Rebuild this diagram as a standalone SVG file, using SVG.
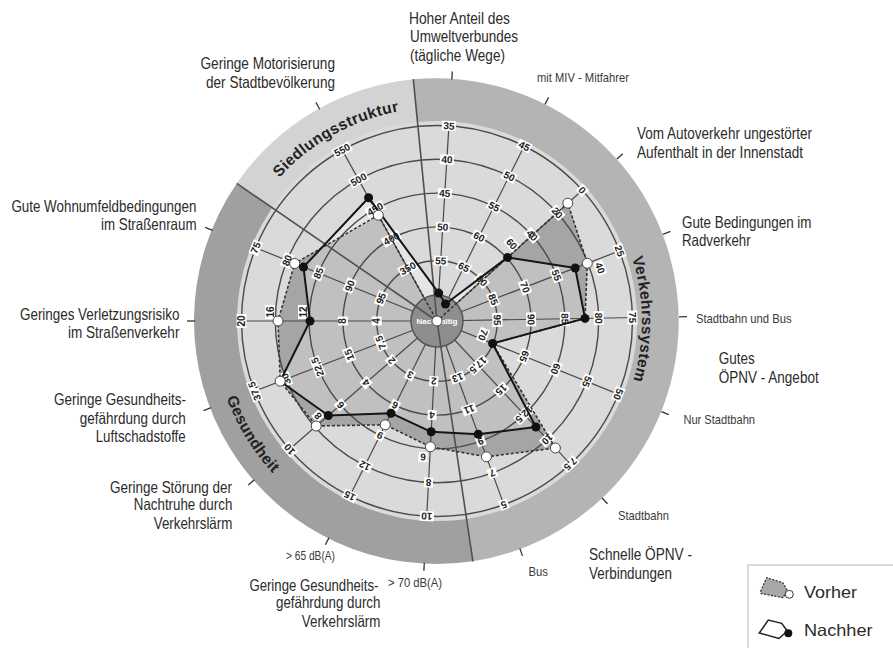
<svg xmlns="http://www.w3.org/2000/svg" width="893" height="648" viewBox="0 0 893 648">
<defs>
<style>
.lbl{font-family:"Liberation Sans Narrow","Liberation Sans",Arial,sans-serif;font-size:16.5px;fill:#2b2b2b}
.sm{font-family:"Liberation Sans Narrow","Liberation Sans",Arial,sans-serif;font-size:13px;fill:#3a3a3a}
.band{font-family:"Liberation Sans",Arial,sans-serif;font-size:15.5px;font-weight:bold;fill:#222;letter-spacing:0.4px}
.ring{fill:none;stroke:#4a4a4a;stroke-width:1.4}
.ax{stroke:#4a4a4a;stroke-width:1.2}
.tick{stroke:#333;stroke-width:1.3}
.div{stroke:#505050;stroke-width:1.6}
.v rect{fill:#fff}
.v text{font-family:"Liberation Sans",Arial,sans-serif;font-size:10px;font-weight:bold;fill:#222;text-anchor:middle}
.nach{fill:none;stroke:#151515;stroke-width:2;stroke-linejoin:round}
.vor{fill:none;stroke:#333;stroke-width:1.6;stroke-dasharray:3 2;stroke-linejoin:round}
.bd{fill:#111}
.wd{fill:#fff;stroke:#444;stroke-width:1}
</style>
<path id="pSied" d="M254.4,211.3 A213,213 0 0 1 440.7,108"/>
<path id="pVerk" d="M613.6,217 A205,205 0 0 1 615.4,422"/>
<path id="pGes" d="M213.1,326.9 A224,224 0 0 0 330.1,517.9"/>
</defs>
<rect width="893" height="648" fill="#fff"/>

<g id="bands">
<path d="M437,321 L236.7,183.4 A243,243 0 0 1 413.3,79.2 Z" fill="#d3d3d3"/>
<path d="M437,321 L413.3,79.2 A243,243 0 0 1 472.9,561.3 Z" fill="#b4b4b4"/>
<path d="M437,321 L472.9,561.3 A243,243 0 0 1 236.7,183.4 Z" fill="#a0a0a0"/>
<circle cx="437" cy="321" r="200" fill="#dadada"/>
<text class="band"><textPath href="#pSied" startOffset="50%" text-anchor="middle">Siedlungsstruktur</textPath></text>
<text class="band"><textPath href="#pVerk" startOffset="50%" text-anchor="middle">Verkehrssystem</textPath></text>
<text class="band"><textPath href="#pGes" startOffset="50%" text-anchor="middle">Gesundheit</textPath></text>
</g>

<g id="areas">
<polygon id="area-vorher" points="378.3,215.2 437,321 567.8,203.2 587.3,263.3 585,318.4 492.6,343.5 555.4,448 486.4,456.8 430.4,446.8 385.2,424.8 316.2,426 280.2,381.2 278,321 294.7,263.5" fill="#a5a5a5"/>
<polygon id="area-nachher" points="368.6,197.7 438.7,293.1 445.5,304 507.6,257.4 575.2,268 585,318.4 492.6,343.5 535.9,427 478.2,434.3 431.2,431.8 391,413.2 328.3,415.5 280.2,381.2 310,321 303.5,267.1" fill="#fff" fill-opacity="0.3"/>
</g>

<g id="rings">
<circle class="ring" cx="437" cy="321" r="60.3"/>
<circle class="ring" cx="437" cy="321" r="94.1"/>
<circle class="ring" cx="437" cy="321" r="127.9"/>
<circle class="ring" cx="437" cy="321" r="161.7"/>
<circle class="ring" cx="437" cy="321" r="195.5"/>
</g>

<g id="axes">
<line class="ax" x1="437" y1="321" x2="449.2" y2="121.4"/>
<line class="ax" x1="437" y1="321" x2="526.2" y2="142"/>
<line class="ax" x1="437" y1="321" x2="585.6" y2="187.2"/>
<line class="ax" x1="437" y1="321" x2="623.7" y2="249.3"/>
<line class="ax" x1="437" y1="321" x2="637" y2="317.5"/>
<line class="ax" x1="437" y1="321" x2="622.4" y2="395.9"/>
<line class="ax" x1="437" y1="321" x2="573.4" y2="467.3"/>
<line class="ax" x1="437" y1="321" x2="505.4" y2="508.9"/>
<line class="ax" x1="437" y1="321" x2="426.5" y2="520.7"/>
<line class="ax" x1="437" y1="321" x2="347.8" y2="500"/>
<line class="ax" x1="437" y1="321" x2="286.1" y2="452.2"/>
<line class="ax" x1="437" y1="321" x2="250.3" y2="392.7"/>
<line class="ax" x1="437" y1="321" x2="237" y2="321"/>
<line class="ax" x1="437" y1="321" x2="251.6" y2="246.1"/>
<line class="ax" x1="437" y1="321" x2="340" y2="146.1"/>
</g>

<g id="ticks">
<line class="tick" x1="451.8" y1="79.5" x2="452.3" y2="71.5"/>
<line class="tick" x1="545" y1="104.4" x2="548.6" y2="97.3"/>
<line class="tick" x1="616.8" y1="159.1" x2="622.8" y2="153.7"/>
<line class="tick" x1="662.9" y1="234.3" x2="670.4" y2="231.4"/>
<line class="tick" x1="679" y1="316.8" x2="687" y2="316.6"/>
<line class="tick" x1="661.4" y1="411.7" x2="668.8" y2="414.7"/>
<line class="tick" x1="602" y1="498" x2="607.5" y2="503.8"/>
<line class="tick" x1="519.8" y1="548.4" x2="522.5" y2="555.9"/>
<line class="tick" x1="424.3" y1="562.7" x2="423.9" y2="570.7"/>
<line class="tick" x1="329" y1="537.6" x2="325.4" y2="544.7"/>
<line class="tick" x1="254.4" y1="479.8" x2="248.3" y2="485"/>
<line class="tick" x1="211.1" y1="407.7" x2="203.6" y2="410.6"/>
<line class="tick" x1="195" y1="321" x2="187" y2="321"/>
<line class="tick" x1="212.6" y1="230.3" x2="205.2" y2="227.3"/>
<line class="tick" x1="319.7" y1="109.3" x2="315.8" y2="102.3"/>
</g>

<g id="center">
<circle cx="437" cy="321" r="26" fill="#8e8e8e" stroke="#555" stroke-width="1.5"/>
</g>

<g id="dividers">
<line class="div" x1="437" y1="321" x2="413.3" y2="79.2"/>
<line class="div" x1="437" y1="321" x2="236.7" y2="183.4"/>
<line class="div" x1="437" y1="321" x2="472.9" y2="561.3"/>
</g>
<text x="437" y="324" text-anchor="middle" font-family="Liberation Sans, Arial, sans-serif" font-size="8" font-weight="bold" fill="#fff">Nachhaltig</text>

<g id="scale-labels">
<g class="v" transform="translate(448.9,125.9) rotate(3.5)"><rect x="-7" y="-5" width="14" height="10"/><text y="3.5">35</text></g>
<g class="v" transform="translate(446.9,159.6) rotate(3.5)"><rect x="-7" y="-5" width="14" height="10"/><text y="3.5">40</text></g>
<g class="v" transform="translate(444.8,193.3) rotate(3.5)"><rect x="-7" y="-5" width="14" height="10"/><text y="3.5">45</text></g>
<g class="v" transform="translate(442.7,227.1) rotate(3.5)"><rect x="-7" y="-5" width="14" height="10"/><text y="3.5">50</text></g>
<g class="v" transform="translate(440.7,260.8) rotate(3.5)"><rect x="-7" y="-5" width="14" height="10"/><text y="3.5">55</text></g>

<g class="v" transform="translate(524.2,146) rotate(26.5)"><rect x="-7" y="-5" width="14" height="10"/><text y="3.5">45</text></g>
<g class="v" transform="translate(509.2,176.3) rotate(26.5)"><rect x="-7" y="-5" width="14" height="10"/><text y="3.5">50</text></g>
<g class="v" transform="translate(494.1,206.5) rotate(26.5)"><rect x="-7" y="-5" width="14" height="10"/><text y="3.5">55</text></g>
<g class="v" transform="translate(479,236.8) rotate(26.5)"><rect x="-7" y="-5" width="14" height="10"/><text y="3.5">60</text></g>
<g class="v" transform="translate(463.9,267) rotate(26.5)"><rect x="-7" y="-5" width="14" height="10"/><text y="3.5">65</text></g>

<g class="v" transform="translate(582.3,190.2) rotate(48)"><rect x="-4.5" y="-5" width="9" height="10"/><text y="3.5">0</text></g>
<g class="v" transform="translate(557.2,212.8) rotate(48)"><rect x="-7" y="-5" width="14" height="10"/><text y="3.5">20</text></g>
<g class="v" transform="translate(532,235.4) rotate(48)"><rect x="-7" y="-5" width="14" height="10"/><text y="3.5">40</text></g>
<g class="v" transform="translate(511.7,244) rotate(48)"><rect x="-7" y="-5" width="14" height="10"/><text y="3.5">60</text></g>
<g class="v" transform="translate(481.8,280.7) rotate(48)"><rect x="-7" y="-5" width="14" height="10"/><text y="3.5">80</text></g>

<g class="v" transform="translate(619.5,250.9) rotate(69)"><rect x="-7" y="-5" width="14" height="10"/><text y="3.5">25</text></g>
<g class="v" transform="translate(600,268) rotate(69)"><rect x="-7" y="-5" width="14" height="10"/><text y="3.5">40</text></g>
<g class="v" transform="translate(556.4,275.2) rotate(69)"><rect x="-7" y="-5" width="14" height="10"/><text y="3.5">55</text></g>
<g class="v" transform="translate(524.9,287.3) rotate(69)"><rect x="-7" y="-5" width="14" height="10"/><text y="3.5">70</text></g>
<g class="v" transform="translate(493.3,299.4) rotate(69)"><rect x="-7" y="-5" width="14" height="10"/><text y="3.5">85</text></g>

<g class="v" transform="translate(632.5,317.6) rotate(89)"><rect x="-7" y="-5" width="14" height="10"/><text y="3.5">75</text></g>
<g class="v" transform="translate(598.7,318.2) rotate(89)"><rect x="-7" y="-5" width="14" height="10"/><text y="3.5">80</text></g>
<g class="v" transform="translate(564.9,318.8) rotate(89)"><rect x="-7" y="-5" width="14" height="10"/><text y="3.5">85</text></g>
<g class="v" transform="translate(531.1,319.4) rotate(89)"><rect x="-7" y="-5" width="14" height="10"/><text y="3.5">90</text></g>
<g class="v" transform="translate(497.3,319.9) rotate(89)"><rect x="-7" y="-5" width="14" height="10"/><text y="3.5">95</text></g>

<g class="v" transform="translate(618.3,394.2) rotate(112)"><rect x="-7" y="-5" width="14" height="10"/><text y="3.5">50</text></g>
<g class="v" transform="translate(586.9,381.6) rotate(112)"><rect x="-7" y="-5" width="14" height="10"/><text y="3.5">55</text></g>
<g class="v" transform="translate(555.6,368.9) rotate(112)"><rect x="-7" y="-5" width="14" height="10"/><text y="3.5">60</text></g>
<g class="v" transform="translate(524.2,356.3) rotate(112)"><rect x="-7" y="-5" width="14" height="10"/><text y="3.5">65</text></g>
<g class="v" transform="translate(483,335) rotate(112)"><rect x="-7" y="-5" width="14" height="10"/><text y="3.5">70</text></g>

<g class="v" transform="translate(570.3,464) rotate(137)"><rect x="-8" y="-5" width="16" height="10"/><text y="3.5">7,5</text></g>
<g class="v" transform="translate(547.3,439.3) rotate(137)"><rect x="-7" y="-5" width="14" height="10"/><text y="3.5">10</text></g>
<g class="v" transform="translate(524.2,414.5) rotate(137)"><rect x="-10.5" y="-5" width="21" height="10"/><text y="3.5">12,5</text></g>
<g class="v" transform="translate(501.2,389.8) rotate(137)"><rect x="-7" y="-5" width="14" height="10"/><text y="3.5">15</text></g>
<g class="v" transform="translate(478.1,365.1) rotate(137)"><rect x="-10.5" y="-5" width="21" height="10"/><text y="3.5">17,5</text></g>

<g class="v" transform="translate(503.9,504.7) rotate(160)"><rect x="-4.5" y="-5" width="9" height="10"/><text y="3.5">5</text></g>
<g class="v" transform="translate(492.3,473) rotate(160)"><rect x="-4.5" y="-5" width="9" height="10"/><text y="3.5">7</text></g>
<g class="v" transform="translate(480.7,441.2) rotate(160)"><rect x="-4.5" y="-5" width="9" height="10"/><text y="3.5">9</text></g>
<g class="v" transform="translate(469.2,409.4) rotate(160)"><rect x="-7" y="-5" width="14" height="10"/><text y="3.5">11</text></g>
<g class="v" transform="translate(457.6,377.7) rotate(160)"><rect x="-7" y="-5" width="14" height="10"/><text y="3.5">13</text></g>

<g class="v" transform="translate(426.8,516.2) rotate(183)"><rect x="-7" y="-5" width="14" height="10"/><text y="3.5">10</text></g>
<g class="v" transform="translate(428.5,482.5) rotate(183)"><rect x="-4.5" y="-5" width="9" height="10"/><text y="3.5">8</text></g>
<g class="v" transform="translate(423,457) rotate(183)"><rect x="-4.5" y="-5" width="9" height="10"/><text y="3.5">6</text></g>
<g class="v" transform="translate(432.1,415) rotate(183)"><rect x="-4.5" y="-5" width="9" height="10"/><text y="3.5">4</text></g>
<g class="v" transform="translate(433.8,381.2) rotate(183)"><rect x="-4.5" y="-5" width="9" height="10"/><text y="3.5">2</text></g>

<g class="v" transform="translate(349.8,496) rotate(206.5)"><rect x="-7" y="-5" width="14" height="10"/><text y="3.5">15</text></g>
<g class="v" transform="translate(364.8,465.7) rotate(206.5)"><rect x="-7" y="-5" width="14" height="10"/><text y="3.5">12</text></g>
<g class="v" transform="translate(379.9,435.5) rotate(206.5)"><rect x="-4.5" y="-5" width="9" height="10"/><text y="3.5">9</text></g>
<g class="v" transform="translate(395,405.2) rotate(206.5)"><rect x="-4.5" y="-5" width="9" height="10"/><text y="3.5">6</text></g>
<g class="v" transform="translate(410.1,375) rotate(206.5)"><rect x="-4.5" y="-5" width="9" height="10"/><text y="3.5">3</text></g>

<g class="v" transform="translate(289.5,449.3) rotate(229)"><rect x="-7" y="-5" width="14" height="10"/><text y="3.5">10</text></g>
<g class="v" transform="translate(318,416) rotate(229)"><rect x="-4.5" y="-5" width="9" height="10"/><text y="3.5">8</text></g>
<g class="v" transform="translate(340.5,404.9) rotate(229)"><rect x="-4.5" y="-5" width="9" height="10"/><text y="3.5">6</text></g>
<g class="v" transform="translate(366,382.7) rotate(229)"><rect x="-4.5" y="-5" width="9" height="10"/><text y="3.5">4</text></g>
<g class="v" transform="translate(391.5,360.6) rotate(229)"><rect x="-4.5" y="-5" width="9" height="10"/><text y="3.5">2</text></g>

<g class="v" transform="translate(254.5,391.1) rotate(249)"><rect x="-10.5" y="-5" width="21" height="10"/><text y="3.5">37,5</text></g>
<g class="v" transform="translate(286,379) rotate(249)"><rect x="-7" y="-5" width="14" height="10"/><text y="3.5">30</text></g>
<g class="v" transform="translate(317.6,366.8) rotate(249)"><rect x="-10.5" y="-5" width="21" height="10"/><text y="3.5">22,5</text></g>
<g class="v" transform="translate(349.2,354.7) rotate(249)"><rect x="-7" y="-5" width="14" height="10"/><text y="3.5">15</text></g>
<g class="v" transform="translate(380.7,342.6) rotate(249)"><rect x="-8" y="-5" width="16" height="10"/><text y="3.5">7,5</text></g>

<g class="v" transform="translate(241.5,321) rotate(270)"><rect x="-7" y="-5" width="14" height="10"/><text y="3.5">20</text></g>
<g class="v" transform="translate(270,312) rotate(270)"><rect x="-7" y="-5" width="14" height="10"/><text y="3.5">16</text></g>
<g class="v" transform="translate(303,312) rotate(270)"><rect x="-7" y="-5" width="14" height="10"/><text y="3.5">12</text></g>
<g class="v" transform="translate(342.9,321) rotate(270)"><rect x="-4.5" y="-5" width="9" height="10"/><text y="3.5">8</text></g>
<g class="v" transform="translate(376.7,321) rotate(270)"><rect x="-4.5" y="-5" width="9" height="10"/><text y="3.5">4</text></g>

<g class="v" transform="translate(255.7,247.8) rotate(292)"><rect x="-7" y="-5" width="14" height="10"/><text y="3.5">75</text></g>
<g class="v" transform="translate(287.1,260.4) rotate(292)"><rect x="-7" y="-5" width="14" height="10"/><text y="3.5">80</text></g>
<g class="v" transform="translate(318.4,273.1) rotate(292)"><rect x="-7" y="-5" width="14" height="10"/><text y="3.5">85</text></g>
<g class="v" transform="translate(349.8,285.7) rotate(292)"><rect x="-7" y="-5" width="14" height="10"/><text y="3.5">90</text></g>
<g class="v" transform="translate(381.1,298.4) rotate(292)"><rect x="-7" y="-5" width="14" height="10"/><text y="3.5">95</text></g>

<g class="v" transform="translate(342.2,150) rotate(331)"><rect x="-9.5" y="-5" width="19" height="10"/><text y="3.5">550</text></g>
<g class="v" transform="translate(358.6,179.6) rotate(331)"><rect x="-9.5" y="-5" width="19" height="10"/><text y="3.5">500</text></g>
<g class="v" transform="translate(375,209.1) rotate(331)"><rect x="-9.5" y="-5" width="19" height="10"/><text y="3.5">450</text></g>
<g class="v" transform="translate(391.4,238.7) rotate(331)"><rect x="-9.5" y="-5" width="19" height="10"/><text y="3.5">400</text></g>
<g class="v" transform="translate(407.8,268.3) rotate(331)"><rect x="-9.5" y="-5" width="19" height="10"/><text y="3.5">350</text></g>
</g>

<g id="connectors">
<polygon class="vor" points="378.3,215.2 437,321 567.8,203.2 587.3,263.3 585,318.4 492.6,343.5 555.4,448 486.4,456.8 430.4,446.8 385.2,424.8 316.2,426 280.2,381.2 278,321 294.7,263.5"/>
<polygon class="nach" points="368.6,197.7 438.7,293.1 445.5,304 507.6,257.4 575.2,268 585,318.4 492.6,343.5 535.9,427 478.2,434.3 431.2,431.8 391,413.2 328.3,415.5 280.2,381.2 310,321 303.5,267.1"/>
</g>

<g id="points-vorher">
<circle class="wd" cx="378.3" cy="215.2" r="5"/>
<circle class="wd" cx="437" cy="321" r="5"/>
<circle class="wd" cx="567.8" cy="203.2" r="5"/>
<circle class="wd" cx="587.3" cy="263.3" r="5"/>
<circle class="wd" cx="555.4" cy="448" r="5"/>
<circle class="wd" cx="486.4" cy="456.8" r="5"/>
<circle class="wd" cx="430.4" cy="446.8" r="5"/>
<circle class="wd" cx="385.2" cy="424.8" r="5"/>
<circle class="wd" cx="316.2" cy="426" r="5"/>
<circle class="wd" cx="280.2" cy="381.2" r="5"/>
<circle class="wd" cx="278" cy="321" r="5"/>
<circle class="wd" cx="294.7" cy="263.5" r="5"/>
</g>
<g id="points-nachher">
<circle class="bd" cx="368.6" cy="197.7" r="4.5"/>
<circle class="bd" cx="438.7" cy="293.1" r="4.5"/>
<circle class="bd" cx="445.5" cy="304" r="4.5"/>
<circle class="bd" cx="507.6" cy="257.4" r="4.5"/>
<circle class="bd" cx="575.2" cy="268" r="4.5"/>
<circle class="bd" cx="585" cy="318.4" r="4.5"/>
<circle class="bd" cx="492.6" cy="343.5" r="4.5"/>
<circle class="bd" cx="535.9" cy="427" r="4.5"/>
<circle class="bd" cx="478.2" cy="434.3" r="4.5"/>
<circle class="bd" cx="431.2" cy="431.8" r="4.5"/>
<circle class="bd" cx="391" cy="413.2" r="4.5"/>
<circle class="bd" cx="328.3" cy="415.5" r="4.5"/>
<circle class="bd" cx="310" cy="321" r="4.5"/>
<circle class="bd" cx="303.5" cy="267.1" r="4.5"/>
</g>

<g id="label-umwelt">
<text class="lbl" x="409" y="24" textLength="101" lengthAdjust="spacingAndGlyphs">Hoher Anteil des</text>
<text class="lbl" x="410" y="42" textLength="108" lengthAdjust="spacingAndGlyphs">Umweltverbundes</text>
<text class="lbl" x="410" y="61" textLength="95" lengthAdjust="spacingAndGlyphs">(tägliche Wege)</text>
</g>
<g id="label-motor">
<text class="lbl" x="200.5" y="69" textLength="134.5" lengthAdjust="spacingAndGlyphs">Geringe Motorisierung</text>
<text class="lbl" x="206" y="88" textLength="129" lengthAdjust="spacingAndGlyphs">der Stadtbevölkerung</text>
</g>
<g id="label-miv"><text class="sm" x="537" y="82" textLength="92" lengthAdjust="spacingAndGlyphs">mit MIV - Mitfahrer</text></g>
<g id="label-auto">
<text class="lbl" x="637" y="139" textLength="175" lengthAdjust="spacingAndGlyphs">Vom Autoverkehr ungestörter</text>
<text class="lbl" x="637" y="158" textLength="166" lengthAdjust="spacingAndGlyphs">Aufenthalt in der Innenstadt</text>
</g>
<g id="label-rad">
<text class="lbl" x="682" y="228" textLength="129.5" lengthAdjust="spacingAndGlyphs">Gute Bedingungen im</text>
<text class="lbl" x="682" y="246" textLength="68.6" lengthAdjust="spacingAndGlyphs">Radverkehr</text>
</g>
<g id="label-wohn">
<text class="lbl" x="11.4" y="212" textLength="185" lengthAdjust="spacingAndGlyphs">Gute Wohnumfeldbedingungen</text>
<text class="lbl" x="101" y="230" textLength="95.5" lengthAdjust="spacingAndGlyphs">im Straßenraum</text>
</g>
<g id="label-verletz">
<text class="lbl" x="20" y="320" textLength="159.4" lengthAdjust="spacingAndGlyphs">Geringes Verletzungsrisiko</text>
<text class="lbl" x="68" y="338" textLength="111.4" lengthAdjust="spacingAndGlyphs">im Straßenverkehr</text>
</g>
<g id="label-stbus"><text class="sm" x="696" y="323" textLength="95.6" lengthAdjust="spacingAndGlyphs">Stadtbahn und Bus</text></g>
<g id="label-oepnv">
<text class="lbl" x="718.7" y="364" textLength="36" lengthAdjust="spacingAndGlyphs">Gutes</text>
<text class="lbl" x="718.7" y="383" textLength="100" lengthAdjust="spacingAndGlyphs">ÖPNV - Angebot</text>
</g>
<g id="label-luft">
<text class="lbl" x="54" y="405" textLength="132" lengthAdjust="spacingAndGlyphs">Geringe Gesundheits-</text>
<text class="lbl" x="79.7" y="424" textLength="106" lengthAdjust="spacingAndGlyphs">gefährdung durch</text>
<text class="lbl" x="95.7" y="442" textLength="90" lengthAdjust="spacingAndGlyphs">Luftschadstoffe</text>
</g>
<g id="label-nurst"><text class="sm" x="683.4" y="424" textLength="71.6" lengthAdjust="spacingAndGlyphs">Nur Stadtbahn</text></g>
<g id="label-nacht">
<text class="lbl" x="110" y="493" textLength="122" lengthAdjust="spacingAndGlyphs">Geringe Störung der</text>
<text class="lbl" x="133.8" y="510" textLength="98.5" lengthAdjust="spacingAndGlyphs">Nachtruhe durch</text>
<text class="lbl" x="153.8" y="529" textLength="78.5" lengthAdjust="spacingAndGlyphs">Verkehrslärm</text>
</g>
<g id="label-stadtbahn"><text class="sm" x="618" y="520" textLength="51" lengthAdjust="spacingAndGlyphs">Stadtbahn</text></g>
<g id="label-65"><text class="sm" x="286" y="560" textLength="49" lengthAdjust="spacingAndGlyphs">&gt; 65 dB(A)</text></g>
<g id="label-schnell">
<text class="lbl" x="589" y="560" textLength="103" lengthAdjust="spacingAndGlyphs">Schnelle ÖPNV -</text>
<text class="lbl" x="589" y="579" textLength="83" lengthAdjust="spacingAndGlyphs">Verbindungen</text>
</g>
<g id="label-bus"><text class="sm" x="528.5" y="576" textLength="19.5" lengthAdjust="spacingAndGlyphs">Bus</text></g>
<g id="label-70"><text class="sm" x="388" y="587" textLength="54" lengthAdjust="spacingAndGlyphs">&gt; 70 dB(A)</text></g>
<g id="label-laerm">
<text class="lbl" x="249.4" y="591" textLength="129" lengthAdjust="spacingAndGlyphs">Geringe Gesundheits-</text>
<text class="lbl" x="276" y="608" textLength="104.4" lengthAdjust="spacingAndGlyphs">gefährdung durch</text>
<text class="lbl" x="301.8" y="627" textLength="78.6" lengthAdjust="spacingAndGlyphs">Verkehrslärm</text>
</g>

<g id="legend">
<rect x="748" y="565" width="150" height="90" fill="#fff" stroke="#cfcfcf" stroke-width="1.5"/>
<polygon points="760.5,591.5 766.7,577.7 782.7,582.7 787,590 783.3,597.7 761,593.5" fill="#a8a8a8" stroke="#333" stroke-width="1.3" stroke-dasharray="2 1.5"/>
<circle cx="789.3" cy="594.3" r="4" fill="#fff" stroke="#333" stroke-width="1"/>
<text class="lbl" x="804" y="598" font-size="17" textLength="53" lengthAdjust="spacingAndGlyphs">Vorher</text>
<polygon points="759.3,633 768.3,620 781.7,623.3 787.3,631 779,638.5" fill="#fff" stroke="#222" stroke-width="1.5"/>
<circle cx="788.3" cy="633.3" r="4" fill="#111"/>
<text class="lbl" x="804" y="636" font-size="17" textLength="68.5" lengthAdjust="spacingAndGlyphs">Nachher</text>
</g>
</svg>
